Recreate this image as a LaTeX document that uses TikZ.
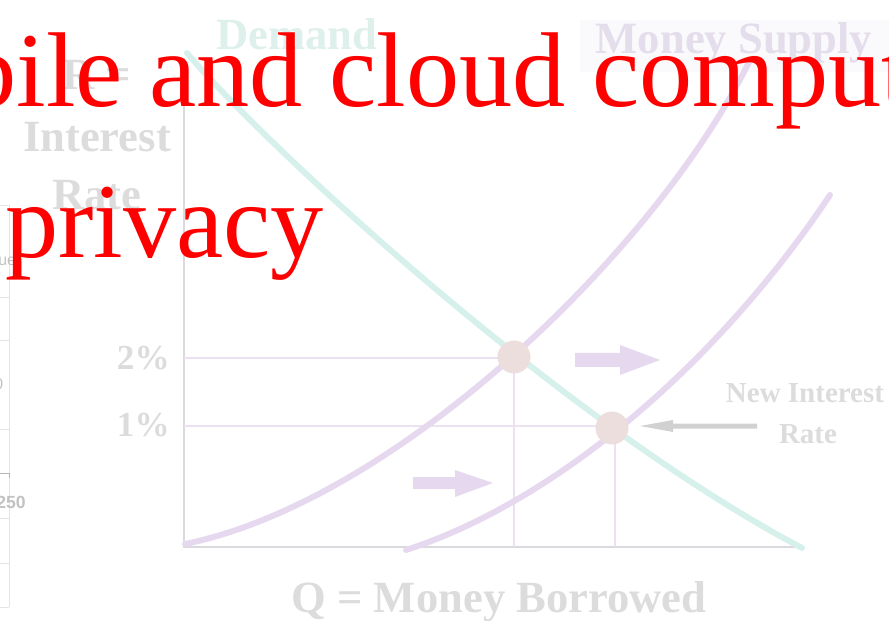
\documentclass[tikz,border=0pt]{standalone}
\usepackage{fontspec}
\setmainfont{Liberation Serif}
\setsansfont{Liberation Sans}
\definecolor{redtext}{RGB}{255,0,0}
\definecolor{gtext}{RGB}{220,220,220}
\definecolor{demandc}{RGB}{214,240,235}
\definecolor{demandtxt}{RGB}{222,240,236}
\definecolor{supplyc}{RGB}{230,216,238}
\definecolor{supplytxt}{RGB}{228,221,236}
\definecolor{dotc}{RGB}{236,222,220}
\definecolor{gridc}{RGB}{236,225,240}
\definecolor{axisc}{RGB}{218,218,222}
\definecolor{faintbg}{RGB}{250,249,251}
\definecolor{leftc}{RGB}{228,228,228}
\begin{document}
\begin{tikzpicture}[x=0.02cm,y=-0.02cm,
  lbl/.style={font=\bfseries\fontsize{25.4}{25.4}\selectfont, text=gtext, inner sep=0},
  smalllbl/.style={font=\bfseries\fontsize{16.5}{16.5}\selectfont, text=gtext, inner sep=0},
  ticklbl/.style={font=\bfseries\fontsize{20}{20}\selectfont, text=gtext, inner sep=0},
  bigred/.style={font=\fontsize{60.5}{60.5}\selectfont, text=redtext, inner sep=0},
  leftlbl/.style={font=\sffamily\fontsize{9}{9}\selectfont, text=leftc!85!black, inner sep=0},
  curve/.style={line width=3.4pt, line cap=round},
  gridline/.style={draw=gridc, line width=0.6pt},
  axisline/.style={draw=axisc, line width=0.9pt},
  eqdot/.style={circle, fill=dotc, minimum size=33*0.02cm, inner sep=0},
  blockarrow/.style={fill=supplyc}
]
\useasboundingbox (0,0) rectangle (889,621);
\clip (0,0) rectangle (889,621);

% faint band behind Money Supply
\fill[faintbg] (580,20) rectangle (889,72);

% left remnant chart
\draw[leftc, line width=0.5pt] (9,205) -- (9,607);
\foreach \yy in {205,297,340,429,518,563,607} \draw[leftc, line width=0.5pt] (0,\yy) -- (9,\yy);
\draw[leftc!80!black, line width=0.5pt] (0,473) -- (9,473) -- (9,478);
\node[leftlbl, anchor=base west] (ue) at (-2,266) {ue};
\node[leftlbl, anchor=base west] (zero) at (-6,390) {0};
\node[leftlbl, anchor=base west, font=\sffamily\bfseries\fontsize{10}{10}\selectfont] (n250) at (-4,508) {250};

% axes
\draw[axisline] (184,58) coordinate (ytop) -- (184,547) coordinate (origin) -- (803,547) coordinate (xend);

% grid lines
\coordinate (e1) at (514,357);
\coordinate (e2) at (612,428);
\draw[gridline] (184,358) -- (514,358) -- (514,547);
\draw[gridline] (184,426) -- (612,426);
\draw[gridline] (615,428) -- (615,547);

% demand curve
\draw[curve, demandc] (187,53) coordinate (dstart) .. controls (260,140) and (560,420) .. (802,548) coordinate (dend);

% supply curves
\draw[curve, supplyc] (185,544) coordinate (s1start) .. controls (400,500) and (660,245) .. (750,60) coordinate (s1end);
\draw[curve, supplyc] (406,550) coordinate (s2start) .. controls (560,500) and (720,360) .. (830,195) coordinate (s2end);

% equilibrium dots
\node[eqdot] (dot1) at (e1) {};
\node[eqdot] (dot2) at (e2) {};

% shift arrows
\fill[blockarrow] (575,353) -- (620,353) -- (620,345) -- (660,360) -- (620,375) -- (620,367) -- (575,367) -- cycle;
\fill[blockarrow] (413,477) -- (455,477) -- (455,470) -- (493,483) -- (455,497) -- (455,489) -- (413,489) -- cycle;

% grey arrow
\fill[gtext!95!black] (757,423.5) -- (673,423.5) -- (673,420) -- (640,426) -- (673,432) -- (673,428.5) -- (757,428.5) -- cycle;

% labels
\node[lbl, anchor=base] (req) at (97,90) {R =};
\node[lbl, anchor=base] (interest) at (97,152) {Interest};
\node[lbl, anchor=base] (rate) at (97,210) {Rate};
\node[lbl, anchor=base, text=demandtxt] (demand) at (297,50) {Demand};
\node[lbl, anchor=base, text=supplytxt] (msupply) at (734,54) {Money Supply};
\node[lbl, anchor=base] (qlabel) at (499,612) {Q = Money Borrowed};
\node[ticklbl, anchor=base east] (two) at (170,370) {2\%};
\node[ticklbl, anchor=base east] (one) at (170,437) {1\%};
\node[smalllbl, anchor=base] (newint) at (805,402) {New Interest};
\node[smalllbl, anchor=base] (newrate) at (808,443) {Rate};

% red overlay text
\node[bigred, anchor=base west] (line1) at (-37,107) {bile and cloud comput};
\node[bigred, anchor=base west] (line2) at (5,258) {privacy};
\end{tikzpicture}
\end{document}
